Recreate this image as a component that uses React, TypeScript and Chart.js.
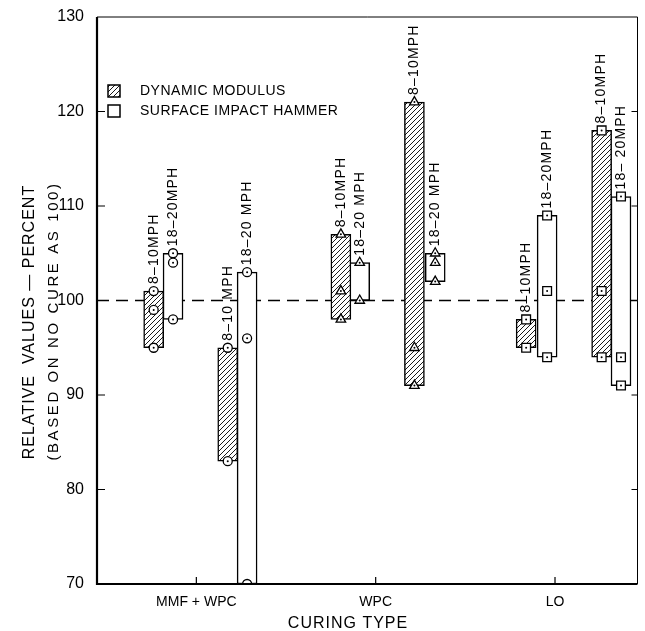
import React, { useEffect, useRef } from 'react';
import { Chart, registerables } from 'chart.js';

Chart.register(...registerables);

// Curing types along the horizontal axis
const curingTypes = ['MMF + WPC', 'WPC', 'LO'];

// Vertical axis range (relative value, percent)
const yMin = 70;
const yMax = 130;
const yStep = 10;
const baselineValue = 100;

// Readings per curing type (percent of no-cure value)
const modulusFirst = [[101, 99, 95], [107, 101, 98], [98, 95]];
const hammerFirst = [[105, 104, 98], [104, 100], [109, 101, 94]];
const modulusSecond = [[95, 83], [121, 95, 91], [118, 101, 94]];
const hammerSecond = [[103, 96, 70], [105, 104, 102], [111, 94, 91]];

// Wind-speed captions over each bar
const modulusFirstLabels = ['8–10MPH', '8–10MPH', '8–10MPH'];
const hammerFirstLabels = ['18–20MPH', '18–20 MPH', '18–20MPH'];
const modulusSecondLabels = ['8–10 MPH', '8–10MPH', '8–10MPH'];
const hammerSecondLabels = ['18–20 MPH', '18–20 MPH', '18– 20MPH'];

const legendLabels = ['DYNAMIC MODULUS', 'SURFACE IMPACT HAMMER'];
const yTitleLines = ['RELATIVE  VALUES — PERCENT', '(BASED ON NO CURE AS 100)'];
const xTitle = 'CURING TYPE';

// Marker shape used for each curing type
const markerStyles = ['circle', 'triangle', 'rect'];

// ---- layout ----
const FONT = '"Liberation Sans", Arial, sans-serif';
const W = 645;
const H = 631;
// bar centre offsets from each curing-type tick, in category units
const SLOT_OFFSETS = [
  [-0.238, -0.13, 0.175, 0.283],
  [-0.194, -0.089, 0.216, 0.332],
  [-0.161, -0.044, 0.26, 0.368],
];
const X_MIN = -0.554;
const X_MAX = 2.46;

const groups = [
  { values: modulusFirst, labels: modulusFirstLabels, slot: 0, hatched: true },
  { values: hammerFirst, labels: hammerFirstLabels, slot: 1, hatched: false },
  { values: modulusSecond, labels: modulusSecondLabels, slot: 2, hatched: true },
  { values: hammerSecond, labels: hammerSecondLabels, slot: 3, hatched: false },
];

function barX(c: number, slot: number) {
  return c + SLOT_OFFSETS[c][slot];
}

function makeHatch(): CanvasPattern | string {
  const size = 5;
  const cv = document.createElement('canvas');
  cv.width = size;
  cv.height = size;
  const g = cv.getContext('2d');
  if (!g) return '#fff';
  g.fillStyle = '#fff';
  g.fillRect(0, 0, size, size);
  g.strokeStyle = '#000';
  g.lineWidth = 0.9;
  g.beginPath();
  g.moveTo(0, size);
  g.lineTo(size, 0);
  g.moveTo(-1, 1);
  g.lineTo(1, -1);
  g.moveTo(size - 1, size + 1);
  g.lineTo(size + 1, size - 1);
  g.stroke();
  return g.createPattern(cv, 'repeat') || '#fff';
}

const decorPlugin = {
  id: 'decor',
  beforeDatasetsDraw(chart: any) {
    const { ctx, chartArea: a, scales } = chart;
    const y = scales.y.getPixelForValue(baselineValue);
    ctx.save();
    ctx.strokeStyle = '#000';
    ctx.lineWidth = 1.3;
    ctx.setLineDash([12, 7]);
    ctx.beginPath();
    ctx.moveTo(a.left, y);
    ctx.lineTo(a.right, y);
    ctx.stroke();
    ctx.restore();
  },
  afterDatasetsDraw(chart: any) {
    const { ctx, chartArea: a, scales } = chart;
    const xs = scales.x;
    const ys = scales.y;
    ctx.save();
    ctx.strokeStyle = '#000';
    ctx.fillStyle = '#000';

    // frame
    ctx.lineWidth = 1;
    ctx.beginPath();
    ctx.moveTo(a.left, a.top);
    ctx.lineTo(a.right, a.top);
    ctx.lineTo(a.right, a.bottom);
    ctx.stroke();
    ctx.lineWidth = 2.2;
    ctx.beginPath();
    ctx.moveTo(a.left, a.top);
    ctx.lineTo(a.left, a.bottom);
    ctx.lineTo(a.right, a.bottom);
    ctx.stroke();

    // inward tick marks
    ctx.lineWidth = 1.2;
    ctx.beginPath();
    for (let v = yMin + yStep; v < yMax; v += yStep) {
      const py = ys.getPixelForValue(v);
      ctx.moveTo(a.left, py);
      ctx.lineTo(a.left + 8, py);
      ctx.moveTo(a.right, py);
      ctx.lineTo(a.right - 6, py);
    }
    curingTypes.forEach((_, i) => {
      const px = xs.getPixelForValue(i);
      ctx.moveTo(px, a.bottom);
      ctx.lineTo(px, a.bottom - 7);
    });
    ctx.stroke();

    // wind-speed captions
    ctx.font = `14px ${FONT}`;
    (ctx as any).letterSpacing = '1.2px';
    ctx.textAlign = 'left';
    ctx.textBaseline = 'middle';
    groups.forEach((g) => {
      g.values.forEach((vals, c) => {
        const px = xs.getPixelForValue(barX(c, g.slot));
        const py = ys.getPixelForValue(Math.max(...vals)) - 7;
        ctx.save();
        ctx.translate(px, py);
        ctx.rotate(-Math.PI / 2);
        ctx.fillText(g.labels[c], 0, 0);
        ctx.restore();
      });
    });
    ctx.restore();
  },
  afterDraw(chart: any) {
    const { ctx } = chart;
    ctx.save();
    ctx.fillStyle = '#000';
    ctx.strokeStyle = '#000';

    // legend
    const hatch = makeHatch();
    const boxes = [
      { y: 85, fill: hatch },
      { y: 105, fill: '#fff' },
    ];
    ctx.lineWidth = 1.5;
    ctx.font = `14px ${FONT}`;
    ctx.textAlign = 'left';
    ctx.textBaseline = 'middle';
    boxes.forEach((b, i) => {
      ctx.fillStyle = b.fill;
      ctx.fillRect(108, b.y, 12, 12);
      ctx.strokeRect(108, b.y, 12, 12);
      ctx.fillStyle = '#000';
      (ctx as any).letterSpacing = '0.5px';
      ctx.fillText(legendLabels[i], 140, b.y + 6.5);
    });

    // axis titles
    ctx.textAlign = 'center';
    ctx.font = `16px ${FONT}`;
    (ctx as any).letterSpacing = '1px';
    ctx.save();
    ctx.translate(30, 322);
    ctx.rotate(-Math.PI / 2);
    ctx.fillText(yTitleLines[0], 0, 0);
    ctx.restore();

    ctx.font = `15px ${FONT}`;
    (ctx as any).letterSpacing = '2.6px';
    ctx.save();
    ctx.translate(54, 321);
    ctx.rotate(-Math.PI / 2);
    ctx.fillText(yTitleLines[1], 0, 0);
    ctx.restore();

    ctx.font = `16px ${FONT}`;
    (ctx as any).letterSpacing = '1px';
    ctx.fillText(xTitle, 348, 624);
    ctx.restore();
  },
};

export default function App() {
  const ref = useRef<HTMLCanvasElement>(null);

  useEffect(() => {
    const canvas = ref.current;
    if (!canvas) return;
    const hatch = makeHatch();

    const modulusBars: any[] = [];
    const hammerBars: any[] = [];
    const markers: any[][] = curingTypes.map(() => []);
    groups.forEach((g) => {
      g.values.forEach((vals, c) => {
        const x = barX(c, g.slot);
        const bar = { x, y: [Math.min(...vals), Math.max(...vals)] };
        (g.hatched ? modulusBars : hammerBars).push(bar);
        vals.forEach((v) => markers[c].push({ x, y: v }));
      });
    });
    const allMarkers = markers.flat();

    const markerSets = markers.map((pts, c) => ({
      type: 'scatter',
      label: `${curingTypes[c]} readings`,
      data: pts,
      order: 2,
      showLine: false,
      pointStyle: markerStyles[c],
      pointRadius: markerStyles[c] === 'rect' ? 6.2 : markerStyles[c] === 'triangle' ? 5.5 : 4.5,
      pointBackgroundColor: '#fff',
      pointBorderColor: '#000',
      pointBorderWidth: 1.3,
    }));

    const chart = new Chart(canvas, {
      type: 'bar',
      data: {
        datasets: [
          {
            type: 'scatter',
            label: 'centres',
            data: allMarkers,
            order: 1,
            showLine: false,
            pointStyle: 'circle',
            pointRadius: 1,
            pointBackgroundColor: '#000',
            pointBorderWidth: 0,
          } as any,
          ...(markerSets as any[]),
          {
            label: legendLabels[0],
            data: modulusBars,
            order: 3,
            backgroundColor: hatch,
            borderColor: '#000',
            borderWidth: 1.5,
            borderSkipped: false,
            barThickness: 20,
            grouped: false,
          } as any,
          {
            label: legendLabels[1],
            data: hammerBars,
            order: 3,
            backgroundColor: '#fff',
            borderColor: '#000',
            borderWidth: 1.5,
            borderSkipped: false,
            barThickness: 20,
            grouped: false,
          } as any,
        ],
      },
      options: {
        responsive: false,
        devicePixelRatio: 1,
        animation: false,
        layout: { padding: { top: 17, right: 4, left: 0, bottom: 0 } },
        plugins: { legend: { display: false }, tooltip: { enabled: false } },
        scales: {
          x: {
            type: 'linear',
            min: X_MIN,
            max: X_MAX,
            offset: false,
            grid: { display: false, drawTicks: false },
            border: { display: false },
            afterBuildTicks: (s: any) => {
              s.ticks = curingTypes.map((_, i) => ({ value: i }));
            },
            afterFit: (s: any) => {
              s.height = 47;
              s.paddingLeft = 0;
              s.paddingRight = 0;
            },
            ticks: {
              autoSkip: false,
              maxRotation: 0,
              padding: 10,
              color: '#000',
              font: { family: FONT, size: 14 },
              callback: (v: any) => curingTypes[v] ?? '',
            },
          },
          y: {
            min: yMin,
            max: yMax,
            grid: { display: false, drawTicks: false },
            border: { display: false },
            afterFit: (s: any) => {
              s.width = 97;
              s.paddingTop = 0;
              s.paddingBottom = 0;
            },
            ticks: {
              stepSize: yStep,
              padding: 13,
              color: '#000',
              font: { family: FONT, size: 16 },
            },
          },
        },
      } as any,
      plugins: [decorPlugin],
    });

    return () => chart.destroy();
  }, []);

  return (
    <div style={{ position: 'fixed', left: 0, top: 0, width: W, height: H, background: '#fff' }}>
      <canvas ref={ref} width={W} height={H} style={{ display: 'block', width: W, height: H }} />
    </div>
  );
}
